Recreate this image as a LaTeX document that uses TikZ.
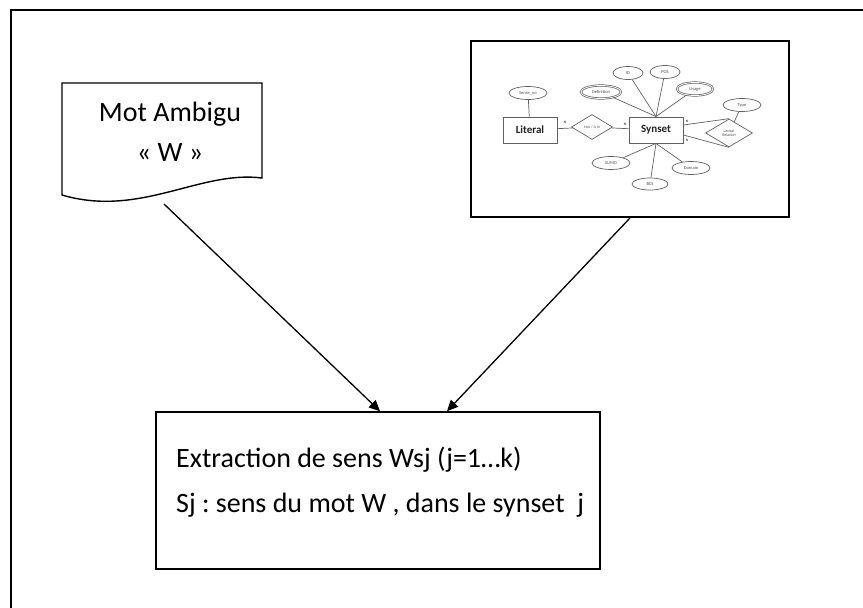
\documentclass[tikz,border=0pt]{standalone}
\usepackage{fontspec}
\setmainfont{Carlito}
\frenchspacing
\usetikzlibrary{arrows,arrows.meta,shapes,calc,positioning}
\tikzstyle{arrow}=[draw,-{Triangle[length=11pt,width=10pt]},line width=1.3pt]
\tikzstyle{frame}=[draw,line width=2pt]
\tikzstyle{block} =
  [rectangle, draw, line width=1.6pt,
   minimum width=444pt, minimum height=157pt]
\tikzstyle{sens}=[font=\fontsize{28}{40}\selectfont, inner sep=0pt]
\tikzstyle{erline}=[draw=gray!75!black, line width=0.7pt]
\tikzstyle{erbox} =
  [rectangle, erline, line width=0.9pt, inner sep=0pt,
   minimum width=54pt, minimum height=26pt,
   font=\fontsize{11}{12}\selectfont\bfseries, text=gray!25!black]
\tikzstyle{erattr} =
  [ellipse, erline, inner sep=0pt, minimum width=38pt, minimum height=13pt,
   font=\fontsize{4.5}{5}\selectfont, text=gray!60!black]
\tikzstyle{errel} =
  [diamond, erline, inner sep=0pt, align=center,
   font=\fontsize{4}{4.5}\selectfont\itshape, text=gray!60!black]
\tikzstyle{nmark}=[font=\fontsize{3.5}{4}\selectfont\bfseries, text=gray!50!black, inner sep=0pt]

\begin{document}
\begin{tikzpicture}[x=1pt, y=-1pt]
  \useasboundingbox (0,0) rectangle (863,608);
  \draw [frame] (11,608) -- (11,9.5) -- (863,9.5);

  % ambiguous word (document shape)
  \draw [line width=1.4pt] (62,83) -- (262,83) -- (262,178)
    .. controls (200,170) and (140,218) .. (62,195) -- cycle;
  \node [sens, align=center] (mot) at (170,132) {Mot Ambigu\\« W »};
  \coordinate (docfoot) at (164,204);

  % WordNet picture
  \node [frame, minimum width=318pt, minimum height=176pt] (img) at (630,129) {};
  \node [erbox] (literal) at (530,130) {Literal};
  \node [erattr] (senseno) at (528,93) {Sense\_no};
  \node [errel, minimum width=41pt, minimum height=25pt] (has) at (592,127) {Has / Is in};
  \node [erbox] (synset) at (656,130) {Synset};
  \node [errel, minimum width=47pt, minimum height=28pt] (lexrel) at (729,133) {Lexical\\Relation};
  \node [erattr] (type) at (742,105) {Type};
  \node [erattr, double, double distance=0.8pt, minimum width=40pt] (defin) at (601,92) {Definition};
  \node [erattr, minimum width=30pt] (id) at (628,73) {ID};
  \node [erattr, minimum width=30pt] (pos) at (665,72) {POS};
  \node [erattr, double, double distance=0.8pt, minimum width=36pt] (usage) at (695,89) {Usage};
  \node [erattr] (sumo) at (611,163) {SUMO};
  \node [erattr, minimum width=36pt, minimum height=12pt] (bcs) at (650,184) {BCS};
  \node [erattr] (domain) at (691,168) {Domain};
  \node [nmark] (n1) at (565,122) {N};
  \node [nmark] (n2) at (625,124) {N};
  \node [nmark] (n3) at (687,121) {N};
  \node [nmark] (n4) at (687,140) {N};

  \draw [erline] (senseno) -- (literal);
  \draw [erline] (literal) -- (has);
  \draw [erline] (has) -- (synset);
  \draw [erline] (synset.north) -- (defin);
  \draw [erline] (synset.north) -- (id);
  \draw [erline] (synset.north) -- (pos);
  \draw [erline] (synset.north) -- (usage);
  \draw [erline] (synset.south) -- (sumo);
  \draw [erline] (synset.south) -- (bcs);
  \draw [erline] (synset.south) -- (domain);
  \draw [erline] ([yshift=5pt]synset.east) -- (lexrel.north);
  \draw [erline] ([yshift=-5pt]synset.east) -- (lexrel.south);
  \draw [erline] (type) -- (lexrel);

  % extraction of senses
  \node [block] (extr) at (378,490.5) {};
  \node [sens, anchor=base west] (line1) at (176,467) {Extraction de sens Wsj (j=1…k)};
  \node [sens, anchor=base west] (line2) at (176,512) {Sj : sens du mot W , dans le synset~~j};

  \draw [arrow] (docfoot) -- ([xshift=2pt]extr.north);
  \draw [arrow] (img.south) -- ([xshift=69pt]extr.north);
\end{tikzpicture}
\end{document}
